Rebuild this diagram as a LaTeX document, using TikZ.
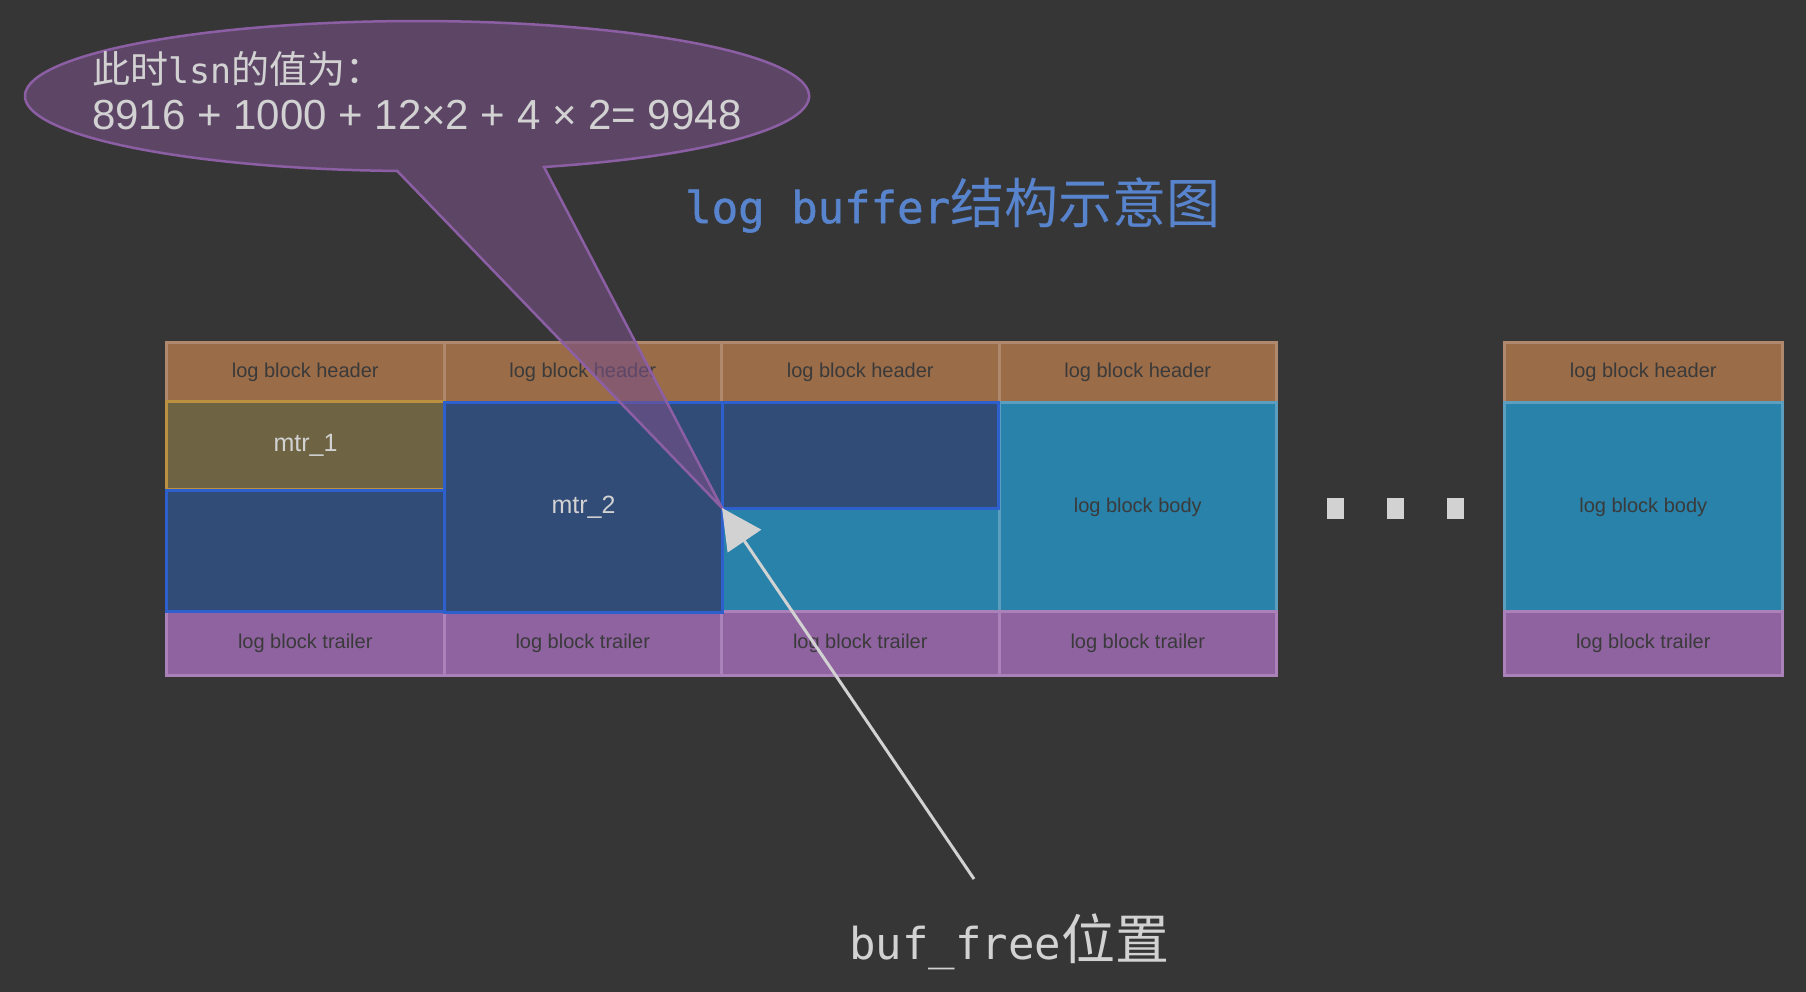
\documentclass[tikz,border=0pt]{standalone}
\usepackage{fontspec}
\setmainfont{Liberation Sans}
\newfontfamily\cjk{Noto Sans CJK SC}
\newfontfamily\mono{DejaVu Sans Mono}
\newfontfamily\monob[FakeBold=1.2]{DejaVu Sans Mono}
\usetikzlibrary{arrows.meta}
\definecolor{bgc}{RGB}{54,54,54}
\definecolor{headfill}{RGB}{155,108,72}
\definecolor{headline}{RGB}{176,136,110}
\definecolor{bodyfill}{RGB}{41,130,170}
\definecolor{bodyline}{RGB}{92,158,192}
\definecolor{trailfill}{RGB}{142,99,160}
\definecolor{trailline}{RGB}{170,130,185}
\definecolor{mtrfill}{RGB}{110,100,68}
\definecolor{mtrline}{RGB}{185,145,65}
\definecolor{dbfill}{RGB}{50,76,120}
\definecolor{dbline}{RGB}{45,95,205}
\definecolor{labc}{RGB}{58,58,58}
\definecolor{lightc}{RGB}{210,210,210}
\definecolor{titlec}{RGB}{88,132,205}
\definecolor{callfill}{RGB}{120,80,135}
\definecolor{callline}{RGB}{140,95,165}
\begin{document}
\begin{tikzpicture}[x=1pt,y=-1pt,
  cellbase/.style={anchor=north west,line width=3pt,inner sep=0pt,minimum width=277.5pt,
     text=labc,font=\fontsize{20}{24}\selectfont},
  headcell/.style={cellbase,fill=headfill,draw=headline,minimum height=60pt},
  bodycell/.style={cellbase,fill=bodyfill,draw=bodyline,minimum height=209pt},
  trailcell/.style={cellbase,fill=trailfill,draw=trailline,minimum height=64pt},
  mtrbox/.style={anchor=north west,line width=3pt,inner sep=0pt,fill=mtrfill,draw=mtrline,
     text=lightc,font=\fontsize{25}{30}\selectfont},
  darkbox/.style={anchor=north west,line width=3pt,inner sep=0pt,fill=dbfill,draw=dbline,
     text=lightc,font=\fontsize{25}{30}\selectfont},
  dotbox/.style={fill=lightc,inner sep=0pt,minimum width=17pt,minimum height=21pt},
  bigtxt/.style={inner sep=0pt,anchor=west}]
\fill[bgc] (0,0) rectangle (1806,992);
\useasboundingbox (0,0) rectangle (1806,992);
% headers
\node[headcell] (h1) at (165,341) {log block header};
\node[headcell] (h2) at (442.5,341) {log block header};
\node[headcell] (h3) at (720,341) {log block header};
\node[headcell] (h4) at (997.5,341) {log block header};
\node[headcell] (h5) at (1503,341) {log block header};
% bodies
\node[bodycell] (b3) at (720,401) {};
\node[bodycell] (b4) at (997.5,401) {log block body};
\node[bodycell] (b5) at (1503,401) {log block body};
% trailers
\node[trailcell] (t1) at (165,610) {log block trailer};
\node[trailcell] (t2) at (442.5,610) {log block trailer};
\node[trailcell] (t3) at (720,610) {log block trailer};
\node[trailcell] (t4) at (997.5,610) {log block trailer};
\node[trailcell] (t5) at (1503,610) {log block trailer};
% mtr overlays
\node[mtrbox,minimum width=278pt,minimum height=88pt] (m1) at (165,400) {mtr\_1};
\node[darkbox,minimum width=278pt,minimum height=121pt] (m1b) at (165,489) {};
\node[darkbox,minimum width=278pt,minimum height=210pt] (m2) at (443,401) {mtr\_2};
\node[darkbox,minimum width=276pt,minimum height=106pt] (m2b) at (721,401) {};
% dots
\node[dotbox] (d1) at (1335,508) {};
\node[dotbox] (d2) at (1395,508) {};
\node[dotbox] (d3) at (1455,508) {};
% title
\node[bigtxt,text=titlec] (title) at (685,205)
  {{\monob\fontsize{44}{53}\selectfont log buffer}{\cjk\fontsize{54}{60}\selectfont 结构示意图}};
% callout
\coordinate (freept) at (722,508);
\path[fill=callfill,fill opacity=0.6,draw=callline,line width=2.5pt]
  (544,167) arc[start angle=71.1,end angle=-267.1,x radius=392,y radius=75]
  -- (freept) -- cycle;
\node[bigtxt,text=lightc] (l1) at (92,69)
  {{\cjk\fontsize{38}{44}\selectfont 此时}{\mono\fontsize{35}{40}\selectfont lsn}{\cjk\fontsize{38}{44}\selectfont 的值为：}};
\node[bigtxt,text=lightc] (l2) at (92,115)
  {\fontsize{42}{48}\selectfont 8916 + 1000 + 12×2 + 4 × 2= 9948};
% arrow
\coordinate (arrstart) at (974,879);
\draw[lightc,line width=3pt,-{Triangle[length=40pt,width=40pt]}] (arrstart) -- (freept);
\node[bigtxt,text=lightc] (bf) at (849,942)
  {{\mono\fontsize{44}{53}\selectfont buf\_free}{\cjk\fontsize{54}{60}\selectfont 位置}};
\end{tikzpicture}
\end{document}
